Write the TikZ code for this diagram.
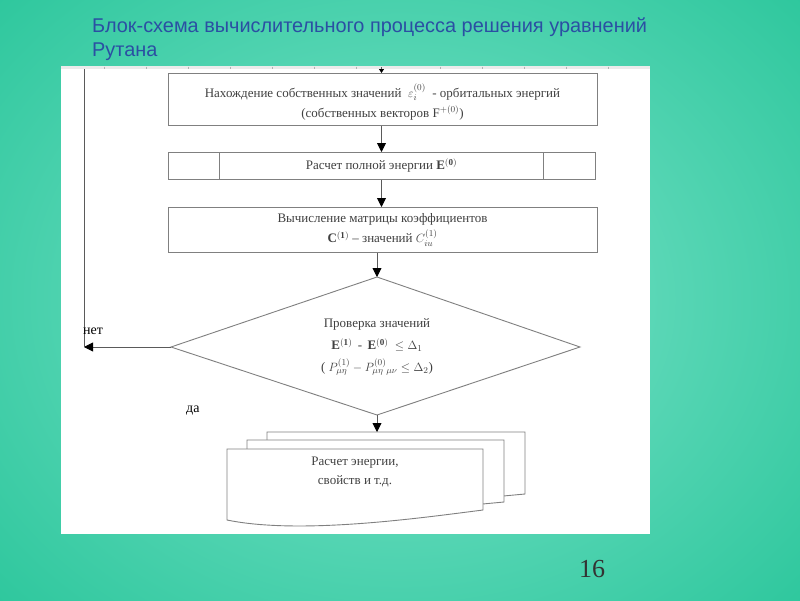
\documentclass[tikz,border=0pt]{standalone}
\usepackage{fontspec}
\setmainfont{Liberation Serif}
\newfontfamily\titlefont{Liberation Sans}
\usetikzlibrary{arrows.meta}
\definecolor{bgedge}{HTML}{2EC79D}
\definecolor{bgmid}{HTML}{7FE4CB}
\definecolor{titleblue}{HTML}{2B4FA3}
\definecolor{ln}{HTML}{5A5A5A}
\definecolor{bx}{HTML}{808080}
\tikzset{
  blk/.style={draw=bx, line width=0.9pt, fill=white},
  conn/.style={draw=ln, line width=0.9pt, -{Triangle[length=9pt,width=9pt,fill=black,color=black]}},
  smallconn/.style={draw=ln, line width=0.9pt, -{Triangle[length=4pt,width=5pt,fill=black,color=black]}},
  plain/.style={draw=ln, line width=0.9pt},
  txt/.style={font=\fontsize{13}{20}\selectfont, text=black!75, align=center, inner sep=0pt},
  lbl/.style={font=\fontsize{14}{15}\selectfont, text=black, anchor=west, inner sep=0pt},
}
\begin{document}
\begin{tikzpicture}[x=1pt,y=-1pt]
\useasboundingbox (0,0) rectangle (800,600);
\fill[bgedge] (0,0) rectangle (800,600);
\shade[inner color=bgmid, outer color=bgedge] (-150,-150) rectangle (950,750);
% title
\node[anchor=west, inner sep=0pt, text=titleblue, font=\titlefont\fontsize{19.9}{22}\selectfont] (t1) at (92,27) {Блок-схема вычислительного процесса решения уравнений};
\node[anchor=west, inner sep=0pt, text=titleblue, font=\titlefont\fontsize{19.9}{22}\selectfont] (t2) at (92,52) {Рутана};
% white panel
\fill[white] (61,66) rectangle (650,534);
\fill[black!8] (61,66) rectangle (650,69);
\foreach \x in {104,146,188,230,272,314,356,440,482,524,566,608}
  \draw[black!30, line width=0.4pt] (\x,66.5) -- (\x,68.5);
% box 1
\node[blk, minimum width=429pt, minimum height=52pt, anchor=north west] (b1) at (168,73) {};
\node[txt] (b1t) at (382.5,102) {Нахождение собственных значений \ $\varepsilon_i^{(0)}$ \ - орбитальных энергий\\(собственных векторов $\mathrm{F}^{+(0)}$)};
% box 2
\node[blk, minimum width=427pt, minimum height=27pt, anchor=north west] (b2) at (168,152) {};
\draw[bx, line width=0.9pt] (219,152) -- (219,179) (543,152) -- (543,179);
\node[txt] (b2t) at (381.5,165.5) {Расчет полной энергии $\mathbf{E^{(0)}}$};
% box 3
\node[blk, minimum width=429pt, minimum height=45pt, anchor=north west] (b3) at (168,207) {};
\node[txt] (b3t) at (382.5,230) {Вычисление матрицы коэффициентов\\$\mathbf{C^{(1)}}$ -- значений $C_{iu}^{(1)}$};
% diamond
\coordinate (dt) at (377,277);
\coordinate (dl) at (171,347);
\coordinate (dr) at (580,347);
\coordinate (db) at (377,415);
\draw[bx, line width=0.9pt, fill=white] (dt) -- (dr) -- (db) -- (dl) -- cycle;
\node[txt, font=\fontsize{13}{22}\selectfont] (dtx) at (377,347) {Проверка значений\\$\mathbf{E^{(1)}}$ \,-\, $\mathbf{E^{(0)}}$ \ $\le \Delta_1$\\( $P_{\mu\eta}^{(1)} - P_{\mu\eta}^{(0)}{}_{\mu\nu} \le \Delta_2$)};
% multidocument
\draw[blk] (267,432) -- (525,432) -- (525,494) .. controls (460,500) and (330,512) .. (267,505) -- cycle;
\draw[blk] (247,440) -- (504,440) -- (504,502) .. controls (440,508) and (310,520) .. (247,513) -- cycle;
\draw[blk] (227,449) -- (483,449) -- (483,510) .. controls (420,518) and (300,535) .. (227,520) -- cycle;
\coordinate (mtop) at (377,432);
\node[txt, font=\fontsize{13}{19}\selectfont] (mt) at (355,472) {Расчет энергии,\\свойств и т.д.};
% connectors
\coordinate (c0) at (381.5,67);
\draw[smallconn] (c0) -- (c0 |- b1.north);
\draw[conn] (b1.south -| c0) -- (b2.north -| c0);
\draw[conn] (b2.south -| c0) -- (b3.north -| c0);
\draw[conn] (b3.south -| dt) -- (dt);
\draw[conn] (db) -- (mtop);
\coordinate (lp) at (84,347);
\coordinate (ltop) at (84,69);
\draw[conn] (dl) -- (lp);
\draw[plain] (lp) -- (ltop);
% labels
\node[lbl] (net) at (83,331) {нет};
\node[lbl] (da) at (186,411) {да};
% page number
\node[inner sep=0pt, text=black!80, font=\fontsize{26}{28}\selectfont] (pg) at (592,569) {16};
\end{tikzpicture}
\end{document}
